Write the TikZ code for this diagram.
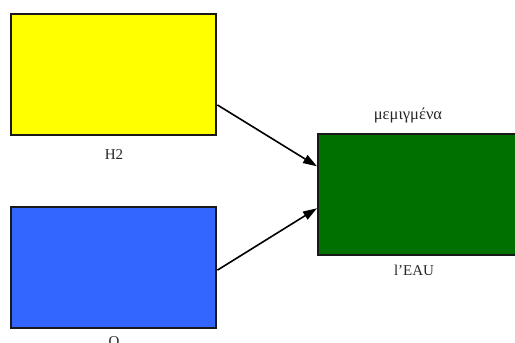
\documentclass[tikz,border=0pt]{standalone}
\usepackage{fontspec}
\setmainfont{Liberation Serif}
\usetikzlibrary{arrows.meta,calc}
\definecolor{boxyellow}{HTML}{FFFF00}
\definecolor{boxblue}{HTML}{3366FF}
\definecolor{boxgreen}{HTML}{007000}
\begin{document}
\begin{tikzpicture}[x=1pt,y=-1pt,
  block/.style={draw=black!90, line width=2.4pt, minimum width=205pt, minimum height=121pt, inner sep=0pt, anchor=north west},
  caption/.style={font=\fontsize{15}{17}\selectfont, inner sep=0pt, text=black!85},
  flow/.style={line width=1.6pt, -{Triangle[length=14pt,width=9pt]}}]
  \useasboundingbox (0,0) rectangle (515,343);
  % reactant and product boxes
  \node[block, fill=boxyellow] (h2) at (10,13) {};
  \node[block, fill=boxblue] (o) at (10,206) {};
  \node[block, fill=boxgreen] (eau) at (317,133) {};
  % captions
  \node[caption] (h2lbl) at (114,155) {H2};
  \node[caption] (olbl) at (114,342) {O};
  \node[caption, font=\fontsize{16.5}{19}\selectfont] (mix) at (408,115) {μεμιγμένα};
  \node[caption] (eaulbl) at (414,270) {l’EAU};
  % reaction arrows
  \draw[flow] ($(h2.south east)!0.255!(h2.north east)$) -- ($(eau.north west)!0.27!(eau.south west)$);
  \draw[flow] ($(o.south east)!0.48!(o.north east)$) -- ($(eau.north west)!0.61!(eau.south west)$);
\end{tikzpicture}
\end{document}
